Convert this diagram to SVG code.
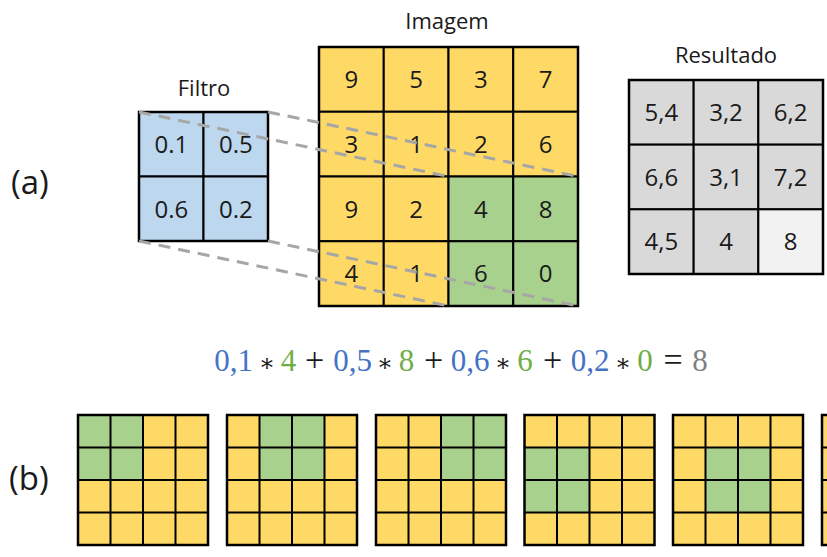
<svg xmlns="http://www.w3.org/2000/svg" width="827" height="557" viewBox="0 0 827 557">
  <style>
    .lbl { font-family: "Open Sans", "Noto Sans", "DejaVu Sans", sans-serif; fill: #1a1a1a; }
    .title { font-size: 22px; text-anchor: middle; }
    .num { font-size: 24px; text-anchor: middle; }
    .tag { font-size: 33px; }
    .cell { stroke: #000; stroke-width: 2; }
    .frame { fill: none; stroke: #000; stroke-width: 2.5; }
    .y { fill: #FFD966; }
    .g { fill: #A9D18E; }
    .b { fill: #BDD7EE; }
    .d { fill: #D9D9D9; }
    .l { fill: #F2F2F2; }
    .guide { stroke: #A6A6A6; stroke-width: 3; stroke-dasharray: 12 8; fill: none; }
    .eq { font-family: "Liberation Serif", "DejaVu Serif", serif; font-size: 31px; text-anchor: middle; }
    .op { font-size: 34px; }
    .ast { font-family: "DejaVu Serif", serif; font-size: 24px; }
    .cb { fill: #4472C4; }
    .cg { fill: #70AD47; }
    .ck { fill: #1a1a1a; }
    .cgr { fill: #808080; }
  </style>

  <!-- panel labels -->
  <text class="lbl tag" x="11" y="194">(a)</text>
  <text class="lbl tag" x="9" y="490">(b)</text>

  <!-- 2x2 filter -->
  <g id="filtro">
    <text class="lbl title" x="204" y="96">Filtro</text>
    <rect class="cell b" x="139" y="112" width="64.5" height="64.5"/>
    <rect class="cell b" x="203.5" y="112" width="64.5" height="64.5"/>
    <rect class="cell b" x="139" y="176.5" width="64.5" height="64.5"/>
    <rect class="cell b" x="203.5" y="176.5" width="64.5" height="64.5"/>
    <rect class="frame" x="139" y="112" width="129" height="129"/>
    <text class="lbl num" x="171.3" y="153">0.1</text>
    <text class="lbl num" x="235.8" y="153">0.5</text>
    <text class="lbl num" x="171.3" y="217.5">0.6</text>
    <text class="lbl num" x="235.8" y="217.5">0.2</text>
  </g>

  <!-- 4x4 input image -->
  <g id="imagem">
    <text class="lbl title" x="447" y="29">Imagem</text>
    <rect class="cell y" x="319" y="47" width="64.75" height="64.75"/>
    <rect class="cell y" x="383.75" y="47" width="64.75" height="64.75"/>
    <rect class="cell y" x="448.5" y="47" width="64.75" height="64.75"/>
    <rect class="cell y" x="513.25" y="47" width="64.75" height="64.75"/>
    <rect class="cell y" x="319" y="111.75" width="64.75" height="64.75"/>
    <rect class="cell y" x="383.75" y="111.75" width="64.75" height="64.75"/>
    <rect class="cell y" x="448.5" y="111.75" width="64.75" height="64.75"/>
    <rect class="cell y" x="513.25" y="111.75" width="64.75" height="64.75"/>
    <rect class="cell y" x="319" y="176.5" width="64.75" height="64.75"/>
    <rect class="cell y" x="383.75" y="176.5" width="64.75" height="64.75"/>
    <rect class="cell g" x="448.5" y="176.5" width="64.75" height="64.75"/>
    <rect class="cell g" x="513.25" y="176.5" width="64.75" height="64.75"/>
    <rect class="cell y" x="319" y="241.25" width="64.75" height="64.75"/>
    <rect class="cell y" x="383.75" y="241.25" width="64.75" height="64.75"/>
    <rect class="cell g" x="448.5" y="241.25" width="64.75" height="64.75"/>
    <rect class="cell g" x="513.25" y="241.25" width="64.75" height="64.75"/>
    <rect class="frame" x="319" y="47" width="259" height="259"/>
    <text class="lbl num" x="351.4" y="88">9</text>
    <text class="lbl num" x="416.1" y="88">5</text>
    <text class="lbl num" x="480.9" y="88">3</text>
    <text class="lbl num" x="545.6" y="88">7</text>
    <text class="lbl num" x="351.4" y="152.7">3</text>
    <text class="lbl num" x="416.1" y="152.7">1</text>
    <text class="lbl num" x="480.9" y="152.7">2</text>
    <text class="lbl num" x="545.6" y="152.7">6</text>
    <text class="lbl num" x="351.4" y="217.5">9</text>
    <text class="lbl num" x="416.1" y="217.5">2</text>
    <text class="lbl num" x="480.9" y="217.5">4</text>
    <text class="lbl num" x="545.6" y="217.5">8</text>
    <text class="lbl num" x="351.4" y="282.2">4</text>
    <text class="lbl num" x="416.1" y="282.2">1</text>
    <text class="lbl num" x="480.9" y="282.2">6</text>
    <text class="lbl num" x="545.6" y="282.2">0</text>
  </g>

  <!-- 3x3 output -->
  <g id="resultado">
    <text class="lbl title" x="726" y="63">Resultado</text>
    <rect class="cell d" x="629" y="80" width="64.67" height="64.67"/>
    <rect class="cell d" x="693.67" y="80" width="64.67" height="64.67"/>
    <rect class="cell d" x="758.33" y="80" width="64.67" height="64.67"/>
    <rect class="cell d" x="629" y="144.67" width="64.67" height="64.67"/>
    <rect class="cell d" x="693.67" y="144.67" width="64.67" height="64.67"/>
    <rect class="cell d" x="758.33" y="144.67" width="64.67" height="64.67"/>
    <rect class="cell d" x="629" y="209.33" width="64.67" height="64.67"/>
    <rect class="cell d" x="693.67" y="209.33" width="64.67" height="64.67"/>
    <rect class="cell l" x="758.33" y="209.33" width="64.67" height="64.67"/>
    <rect class="frame" x="629" y="80" width="194" height="194"/>
    <text class="lbl num" x="661.3" y="121">5,4</text>
    <text class="lbl num" x="726" y="121">3,2</text>
    <text class="lbl num" x="790.7" y="121">6,2</text>
    <text class="lbl num" x="661.3" y="185.7">6,6</text>
    <text class="lbl num" x="726" y="185.7">3,1</text>
    <text class="lbl num" x="790.7" y="185.7">7,2</text>
    <text class="lbl num" x="661.3" y="250.3">4,5</text>
    <text class="lbl num" x="726" y="250.3">4</text>
    <text class="lbl num" x="790.7" y="250.3">8</text>
  </g>

  <!-- projection of the filter onto the window -->
  <g id="connectors">
    <line class="guide" x1="139" y1="112" x2="448.5" y2="176.5"/>
    <line class="guide" x1="268" y1="112" x2="578" y2="176.5"/>
    <line class="guide" x1="139" y1="241" x2="448.5" y2="306"/>
    <line class="guide" x1="268" y1="241" x2="578" y2="306"/>
  </g>

  <!-- worked sum for the last window -->
  <g id="equacao">
    <text class="eq cb" x="233.5" y="371">0,1</text>
    <text class="eq ast ck" x="267" y="371">∗</text>
    <text class="eq cg" x="288.5" y="371">4</text>
    <text class="eq op ck" x="314.5" y="371">+</text>
    <text class="eq cb" x="352.5" y="371">0,5</text>
    <text class="eq ast ck" x="385" y="371">∗</text>
    <text class="eq cg" x="406.5" y="371">8</text>
    <text class="eq op ck" x="433.5" y="371">+</text>
    <text class="eq cb" x="470" y="371">0,6</text>
    <text class="eq ast ck" x="503" y="371">∗</text>
    <text class="eq cg" x="525" y="371">6</text>
    <text class="eq op ck" x="552.5" y="371">+</text>
    <text class="eq cb" x="590" y="371">0,2</text>
    <text class="eq ast ck" x="623" y="371">∗</text>
    <text class="eq cg" x="645" y="371">0</text>
    <text class="eq op ck" x="673" y="371">=</text>
    <text class="eq cgr" x="700" y="371">8</text>
  </g>

  <!-- sliding window steps -->
  <defs>
    <g id="base4">
      <rect class="y" x="0" y="0" width="130" height="130"/>
    </g>
    <g id="lines4">
      <path d="M32.5 0V130M65 0V130M97.5 0V130M0 32.5H130M0 65H130M0 97.5H130" stroke="#000" stroke-width="2" fill="none"/>
      <rect class="frame" x="0" y="0" width="130" height="130"/>
    </g>
  </defs>

  <g id="passo1" transform="translate(78 415)">
    <use href="#base4"/>
    <rect class="g" x="0" y="0" width="65" height="65"/>
    <use href="#lines4"/>
  </g>
  <g id="passo2" transform="translate(227 415)">
    <use href="#base4"/>
    <rect class="g" x="32.5" y="0" width="65" height="65"/>
    <use href="#lines4"/>
  </g>
  <g id="passo3" transform="translate(376 415)">
    <use href="#base4"/>
    <rect class="g" x="65" y="0" width="65" height="65"/>
    <use href="#lines4"/>
  </g>
  <g id="passo4" transform="translate(524.5 415)">
    <use href="#base4"/>
    <rect class="g" x="0" y="32.5" width="65" height="65"/>
    <use href="#lines4"/>
  </g>
  <g id="passo5" transform="translate(673 415)">
    <use href="#base4"/>
    <rect class="g" x="32.5" y="32.5" width="65" height="65"/>
    <use href="#lines4"/>
  </g>
  <g id="passo6" transform="translate(822 415)">
    <use href="#base4"/>
    <rect class="g" x="65" y="32.5" width="65" height="65"/>
    <use href="#lines4"/>
  </g>
</svg>
